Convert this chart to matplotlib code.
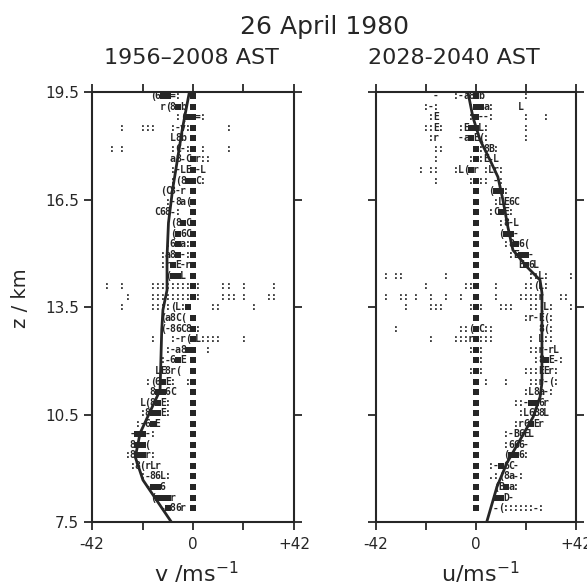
import numpy as np
import matplotlib.pyplot as plt

# range gates (km), top row first - one printed row of the spectrum each
gate_km = [19.39, 19.09, 18.80, 18.50, 18.21, 17.91, 17.62, 17.32, 17.03, 16.73,
           16.44, 16.14, 15.85, 15.55, 15.26, 14.96, 14.67, 14.37, 14.08, 13.78,
           13.49, 13.19, 12.90, 12.60, 12.31, 12.01, 11.72, 11.42, 11.13, 10.83,
           10.54, 10.24, 9.95, 9.65, 9.36, 9.06, 8.77, 8.47, 8.18, 7.88]
bin_ms = 2.1  # velocity step of one printed column

# printed spectra: (first column index, characters); '#' = darkest level
v_rows = [
    [(-8, "(6##=:  #")],
    [(-6, "r(8#b #")],
    [(-3, ":(##=:")],
    [(-14, ":"), (-10, ":::"), (-4, ":-v:#"), (7, ":")],
    [(-4, "L8b #")],
    [(-16, ": :"), (-4, ":C-:#"), (2, ":"), (7, ":")],
    [(-4, "a8-C#r::")],
    [(-4, ":-LE#-L")],
    [(-4, ":(8##C:")],
    [(-6, "(C8-r #")],
    [(-5, ":-8a(#")],
    [(-7, "C68-:  #")],
    [(-4, "(8#C#")],
    [(-5, ":(#6C#")],
    [(-5, ":6#a:#")],
    [(-6, ":a8#-:#")],
    [(-6, ":r#E-r#")],
    [(-5, "(##L #")],
    [(-17, ":"), (-14, ":"), (-8, "::::::::#:"), (6, "::"), (10, ":"), (16, ":")],
    [(-13, ":"), (-8, "::::::::#:"), (6, ":::"), (10, ":"), (15, "::")],
    [(-14, ":"), (-8, "::::(L:#"), (4, "::"), (12, ":")],
    [(-6, "(a8C( #")],
    [(-6, "(-86C8#:")],
    [(-8, ":"), (-4, ":-r(#L::::"), (10, ":")],
    [(-5, ":-a8##"), (3, ":")],
    [(-6, ":-6#E #")],
    [(-7, "LE8r(  #")],
    [(-9, ":(6#E:  :#")],
    [(-8, "8##6C   #")],
    [(-10, "L(8#E:    #")],
    [(-10, ":8##E:    #")],
    [(-11, ":-6#E      #")],
    [(-12, "-##-:       #")],
    [(-12, "8##(        #")],
    [(-13, ":8##r:       #")],
    [(-12, ":8(rLr      #")],
    [(-10, ":-86L:    #")],
    [(-9, "-##6     #")],
    [(-8, "(###r   #")],
    [(-6, "-#86r #")],
]

u_rows = [
    [(-8, "-"), (-4, ":-a8#b"), (10, ":")],
    [(-10, ":-:"), (-1, ":##a:"), (9, "L")],
    [(-9, ":E"), (-1, ":#--:"), (10, ":"), (14, ":")],
    [(-10, "::E:"), (-3, ":E##L:"), (10, ":")],
    [(-9, ":r"), (-3, "-a#E(:"), (10, ":")],
    [(-8, "::"), (0, "#:8B:")],
    [(-8, ":"), (-1, ":#:E-L")],
    [(-11, ":"), (-9, "::"), (-4, ":L(#r :Lr:")],
    [(-8, ":"), (-1, ":#:: -:")],
    [(0, "#"), (3, "(##:")],
    [(0, "#"), (4, ":LE6C")],
    [(0, "#"), (3, ":C#E:")],
    [(0, "#"), (5, ":8-L")],
    [(0, "#"), (5, "(##-")],
    [(0, "#"), (6, ":8#6(")],
    [(0, "#"), (7, ":E##-")],
    [(0, "#"), (9, "E#6L")],
    [(-18, ": ::"), (-6, ":"), (0, "#"), (11, "::L:"), (19, ":")],
    [(-10, ":"), (-2, "::#"), (4, ":"), (10, "::(L:")],
    [(-20, ": :"), (-15, "::"), (-12, ":"), (-9, ":"), (-6, ":"), (-3, ":"),
     (0, "#"), (4, ":"), (9, "::::r"), (17, "::")],
    [(-14, ":"), (-9, ":::"), (-1, ":#:"), (5, ":::"), (11, "::(L:"), (19, ":")],
    [(0, "#"), (10, ":r-E(:")],
    [(-16, ":"), (-3, "::(#C::"), (13, "8(:")],
    [(-9, ":"), (-4, ":::r#:::"), (11, ":"), (13, "L::")],
    [(-1, ":#:"), (11, "::r-rL")],
    [(0, "#:"), (12, ":8#E-:")],
    [(-1, ":#:"), (10, ":::EEr:")],
    [(0, "#"), (2, ":"), (6, ":"), (11, "::r-(:")],
    [(0, "#"), (10, ":L8a-:")],
    [(0, "#"), (8, "::-##6r")],
    [(0, "#"), (9, ":L6B8L")],
    [(0, "#"), (8, ":r6#Er")],
    [(0, "#"), (6, ":-B6EL")],
    [(0, "#"), (6, ":666-")],
    [(0, "#"), (6, "(##6:")],
    [(0, "#"), (3, ":-#6C-")],
    [(0, "#"), (3, ".:(8a-:")],
    [(0, "#"), (4, "(B#a:")],
    [(0, "#"), (4, "##D-")],
    [(0, "#"), (4, "-(::::::-:")],
]

# mean wind profiles drawn through the spectra
v_line_z = [19.5, 18.44, 17.6, 16.77, 15.85, 14.9, 13.97, 13.42, 12.86, 11.18, 9.98, 9.31, 8.67, 7.5]
v_line = [-1.5, -4.5, -6.5, -8.5, -10.2, -10.8, -10.8, -12.5, -13.0, -13.7, -22.0, -24.0, -20.8, -9.0]
u_line_z = [19.5, 18.8, 18.16, 17.6, 17.13, 16.49, 15.73, 15.09, 14.62, 14.25, 13.89,
            11.38, 10.99, 10.43, 9.79, 9.15, 8.48, 7.5]
u_line = [-3.4, -1.3, 1.7, 5.9, 9.2, 11.3, 13.4, 15.5, 21.4, 26.9, 27.7,
          27.7, 26.9, 24.0, 18.5, 13.0, 8.8, 4.5]

x_ticks = [-42, -21, 0, 21, 42]
x_ticklabels = ['-42', '', '0', '', '+42']
z_ticks = [7.5, 10.5, 13.5, 16.5, 19.5]
z_ticklabels = ['7.5', '10.5', '13.5', '16.5', '19.5']

ink = '#262626'

fig = plt.figure(figsize=(5.87, 5.82), dpi=100)
ax_v = fig.add_axes([92/587, 60/582, 202/587, 430/582])
ax_u = fig.add_axes([376/587, 60/582, 200/587, 430/582])


def draw_spectra(ax, rows):
    sq_x, sq_z = [], []
    for z, segs in zip(gate_km, rows):
        for k0, txt in segs:
            for j, ch in enumerate(txt):
                if ch == ' ':
                    continue
                v = (k0 + j) * bin_ms
                if ch == '#':
                    sq_x.append(v)
                    sq_z.append(z)
                else:
                    ax.text(v, z, ch, ha='center', va='center', fontsize=7,
                            family='DejaVu Sans Mono', weight='bold', color=ink)
    ax.scatter(sq_x, sq_z, marker='s', s=17, color=ink, linewidths=0, zorder=3)


for ax, rows, lz, lv in [(ax_v, v_rows, v_line_z, v_line), (ax_u, u_rows, u_line_z, u_line)]:
    draw_spectra(ax, rows)
    ax.plot(lv, lz, color=ink, lw=2.0, zorder=4)
    ax.set_xlim(-42, 42)
    ax.set_ylim(7.5, 19.5)
    ax.set_xticks(x_ticks)
    ax.set_xticklabels(x_ticklabels)
    ax.set_yticks(z_ticks)
    ax.tick_params(axis='both', direction='out', length=6, width=1.3, colors=ink,
                   labelsize=11, top=True, right=True, left=True, bottom=True)
    ax.tick_params(axis='x', pad=5)
    for sp in ax.spines.values():
        sp.set_linewidth(1.5)
        sp.set_color(ink)

ax_v.set_yticklabels(z_ticklabels)
ax_u.set_yticklabels([])

fig.text(325/587, 1 - 27/582, '26 April 1980', ha='center', va='center',
         fontsize=18, color=ink)
fig.text(191/587, 1 - 58/582, '1956\u20132008 AST', ha='center', va='center',
         fontsize=16, color=ink)
fig.text(454/587, 1 - 58/582, '2028-2040 AST', ha='center', va='center',
         fontsize=16, color=ink)
fig.text(20/587, 1 - 298/582, 'z / km', rotation=90, ha='center', va='center',
         fontsize=14, color=ink)
fig.text(196/587, 0.0, r'v /ms$^{-1}$', ha='center', va='baseline', fontsize=16, color=ink)
fig.text(480/587, 0.0, r'u/ms$^{-1}$', ha='center', va='baseline', fontsize=16, color=ink)

fig.savefig('out.png', dpi=100)
